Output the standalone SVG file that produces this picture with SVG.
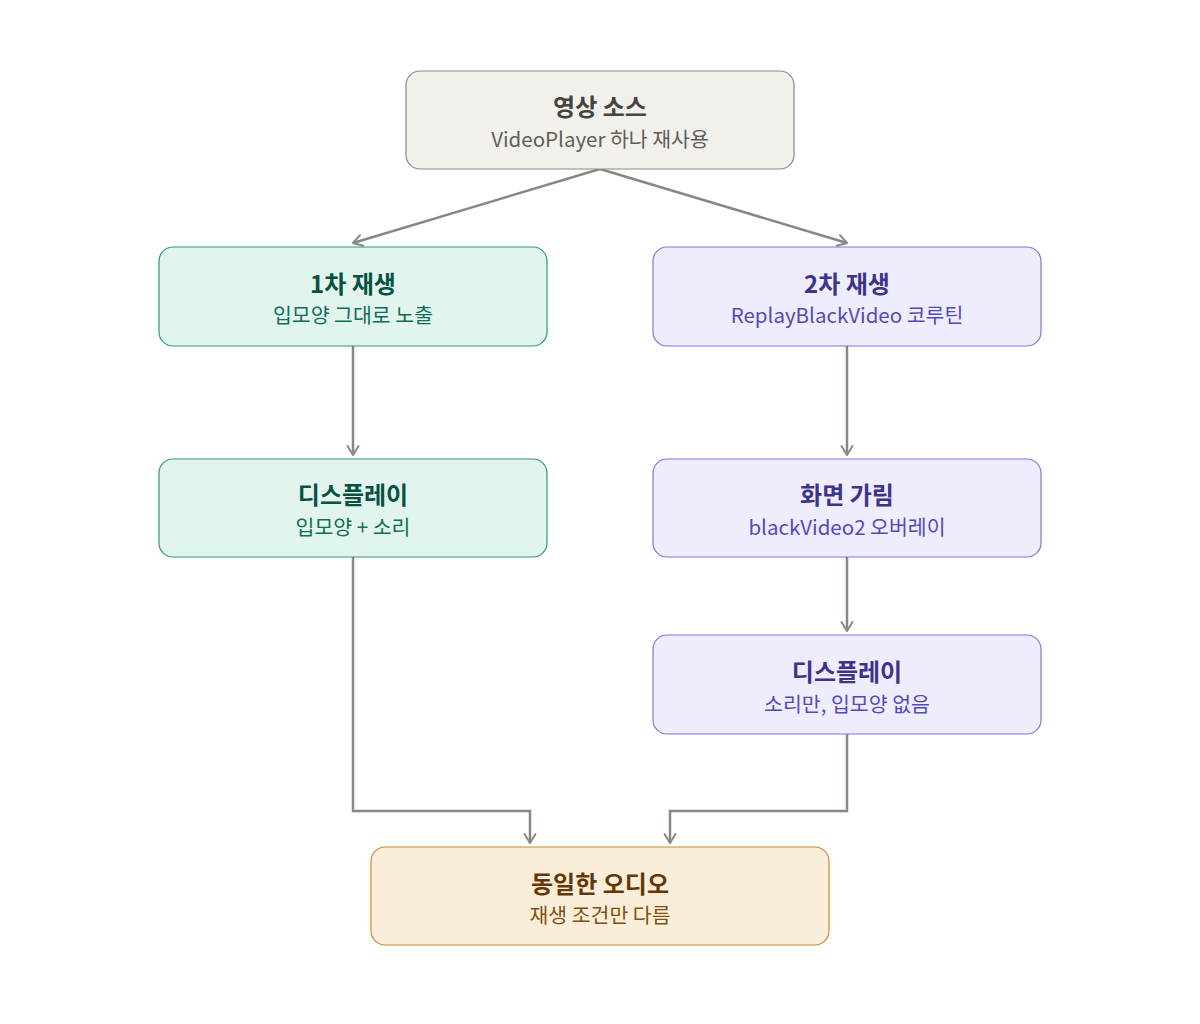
<svg xmlns="http://www.w3.org/2000/svg" width="1200" height="1024" viewBox="0 0 1200 1024">
<defs>
<marker id="arr" viewBox="0 0 14 14" refX="11" refY="7" markerWidth="14" markerHeight="14" markerUnits="userSpaceOnUse" orient="auto-start-reverse">
<path d="M2 1.5 L11 7 L2 12.5" fill="none" stroke="#888780" stroke-width="2" stroke-linecap="round" stroke-linejoin="round"/>
</marker>
<style>
text{font-family:"Noto Sans CJK KR","Noto Sans",sans-serif;text-anchor:middle;dominant-baseline:central}
.t{font-size:24px;font-weight:700}
.s{font-size:20.5px;font-weight:400}
.gray rect{fill:#f1f0eb;stroke:#8c8b85}
.gray .t{fill:#444441}.gray .s{fill:#5f5e5a}
.green rect{fill:#e1f5ee;stroke:#2f9a76}
.green .t{fill:#085041}.green .s{fill:#0f6e56}
.purple rect{fill:#eeedfe;stroke:#7f77dd}
.purple .t{fill:#3c3489}.purple .s{fill:#534ab7}
.orange rect{fill:#faeeda;stroke:#c98a3a}
.orange .t{fill:#633806}.orange .s{fill:#854f0b}
rect{stroke-width:1.2}
.c{fill:none;stroke:#888780;stroke-width:2.5;marker-end:url(#arr)}
</style>
</defs>
<rect width="1200" height="1024" fill="#ffffff"/>
<g id="connectors">
<path class="c" d="M600 169 L353 243"/>
<path class="c" d="M600 169 L847 243"/>
<path class="c" d="M353 346 L353 455"/>
<path class="c" d="M847 346 L847 455"/>
<path class="c" d="M847 557 L847 631"/>
<path class="c" d="M353 557 L353 811 L530 811 L530 843"/>
<path class="c" d="M847 734 L847 811 L670 811 L670 843"/>
</g>
<g id="source" class="gray">
<rect x="406" y="71" width="388" height="98" rx="14"/>
<text class="t" x="600" y="105">영상 소스</text>
<text class="s" x="600" y="138">VideoPlayer 하나 재사용</text>
</g>
<g id="play1" class="green">
<rect x="159" y="247" width="388" height="99" rx="14"/>
<text class="t" x="353" y="282">1차 재생</text>
<text class="s" x="353" y="314">입모양 그대로 노출</text>
</g>
<g id="play2" class="purple">
<rect x="653" y="247" width="388" height="99" rx="14"/>
<text class="t" x="847" y="282">2차 재생</text>
<text class="s" x="847" y="314">ReplayBlackVideo 코루틴</text>
</g>
<g id="display1" class="green">
<rect x="159" y="459" width="388" height="98" rx="14"/>
<text class="t" x="353" y="493">디스플레이</text>
<text class="s" x="353" y="526">입모양 + 소리</text>
</g>
<g id="cover" class="purple">
<rect x="653" y="459" width="388" height="98" rx="14"/>
<text class="t" x="847" y="493">화면 가림</text>
<text class="s" x="847" y="526">blackVideo2 오버레이</text>
</g>
<g id="display2" class="purple">
<rect x="653" y="635" width="388" height="99" rx="14"/>
<text class="t" x="847" y="670">디스플레이</text>
<text class="s" x="847" y="703">소리만, 입모양 없음</text>
</g>
<g id="audio" class="orange">
<rect x="371" y="847" width="458" height="98" rx="14"/>
<text class="t" x="600" y="882">동일한 오디오</text>
<text class="s" x="600" y="914">재생 조건만 다름</text>
</g>
</svg>
